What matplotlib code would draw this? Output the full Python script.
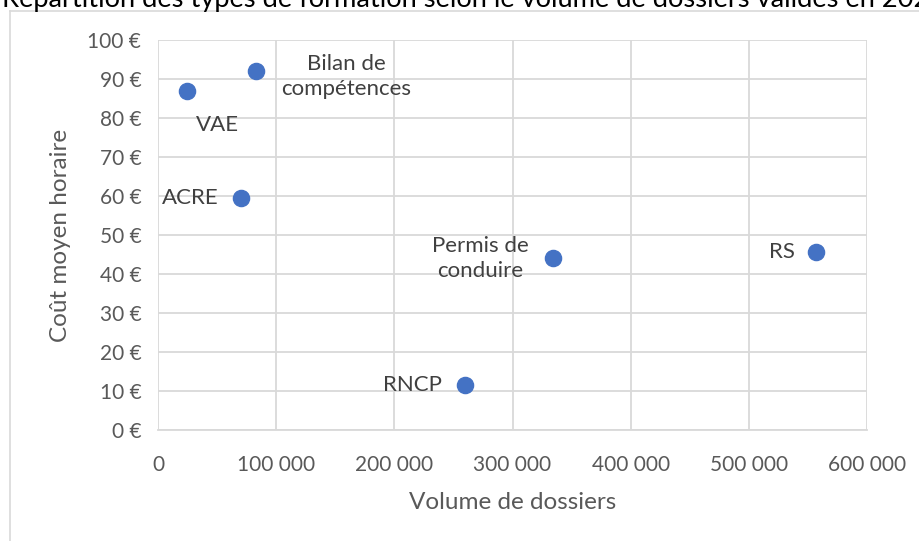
import matplotlib.pyplot as plt
from matplotlib.ticker import FuncFormatter, MultipleLocator
from matplotlib.lines import Line2D

plt.rcParams['font.family'] = ['Lato', 'DejaVu Sans']

types = ["VAE", "Bilan de\ncompétences", "ACRE", "Permis de\nconduire", "RS", "RNCP"]
volumes = [24500, 83000, 70000, 334000, 557000, 260000]
couts = [87, 92, 59.5, 44, 45.7, 11.5]

# label placement (offset in points, alignment) for each point
offsets = [(22, -25, "center"), (65, -4, "center"), (-16, 0, "right"),
           (-52, 0, "center"), (-15, 0, "right"), (-17, 0, "right")]

fig = plt.figure(figsize=(9.2, 5.41), dpi=100)
ax = fig.add_axes([158 / 920, 1 - 430 / 541, 709 / 920, 390 / 541])

# chart frame (cropped screenshot)
fig.add_artist(Line2D([10 / 920, 10 / 920], [0, 1 - 11 / 541], color="#d9d9d9", lw=1.2))
fig.add_artist(Line2D([10 / 920, 1], [1 - 11 / 541, 1 - 11 / 541], color="#d9d9d9", lw=1.2))
fig.text(2 / 920, 1 - 7 / 541, "Répartition des types de formation selon le volume de dossiers validés en 2023",
         fontsize=19.6, color="black", ha="left", va="baseline")

ax.scatter(volumes, couts, s=135, color="#4472C4", zorder=3)

for x, y, label, (dx, dy, ha) in zip(volumes, couts, types, offsets):
    ax.annotate(label, (x, y), xytext=(dx, dy), textcoords="offset points",
                ha=ha, va="center", fontsize=16, color="#404040", linespacing=1.3)

ax.set_xlim(0, 600000)
ax.set_ylim(0, 100)
ax.xaxis.set_major_locator(MultipleLocator(100000))
ax.yaxis.set_major_locator(MultipleLocator(10))
ax.xaxis.set_major_formatter(FuncFormatter(lambda v, p: f"{int(v):,}".replace(",", " ")))
ax.yaxis.set_major_formatter(FuncFormatter(lambda v, p: f"{int(v)} €"))
ax.grid(True, color="#d9d9d9", lw=1.3)
ax.set_axisbelow(True)
for s in ["top", "right", "left"]:
    ax.spines[s].set_visible(False)
ax.spines["bottom"].set_color("#d9d9d9")
ax.spines["bottom"].set_linewidth(1.3)
ax.tick_params(length=0, labelsize=15, colors="#595959")
ax.tick_params(axis="x", pad=18)
ax.tick_params(axis="y", pad=12)

ax.set_xlabel("Volume de dossiers", fontsize=17.5, color="#595959", labelpad=12)
ax.set_ylabel("Coût moyen horaire", fontsize=17.5, color="#595959", labelpad=12)

fig.savefig("out.png", dpi=100)
